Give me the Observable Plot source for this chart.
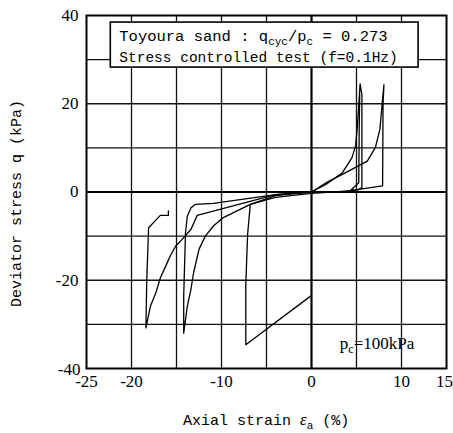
<!DOCTYPE html>
<html>
<head>
<meta charset="utf-8">
<script src="https://cdn.jsdelivr.net/npm/d3@7"></script>
<script src="https://cdn.jsdelivr.net/npm/@observablehq/plot@0.6"></script>
<style>
  body { margin: 0; background: #fff; }
  svg { display: block; }
</style>
</head>
<body>
<div id="chart"></div>
<script>
// Axis ticks and grid
const xTicks = [-25, -20, -10, 0, 10, 15];
const yTicks = [40, 20, 0, -20, -40];
const xGrid = [-20, -15, -10, -5, 5, 10];
const yGrid = [-30, -20, -10, 10, 20, 30];

// Stress paths: axial strain (%) and deviator stress q (kPa)
// first compression loop, unloading and extension to about -7 %
const loop1Strain = [0, 1.6, 3.4, 4.5, 4.9, 5.1, 5.25, 5.4, 5.6, 5.6, 5.6, 5.2, 3.0, 0, -4.0, -6.8, -7.1, -7.3, -7.3, -0.1];
const loop1Stress = [0, 1.7, 4.3, 7.8, 10.5, 15, 19.5, 24.5, 22, 5, 1.0, 0.5, 0.1, -0.3, -1.2, -2.8, -9.6, -21, -34.6, -23.6];

// second compression loop to about 8 %
const loop2Strain = [0, 1.8, 3.8, 6.2, 7.1, 7.6, 7.8, 8.0, 8.05, 7.95, 7.9, 6.0, 4.3, 5.25, 5.3, 5.35];
const loop2Stress = [0, 2.3, 4.4, 7.0, 10.1, 14.2, 18.8, 23.3, 24.3, 20, 1.4, 0.8, 0.3, 2.1, 14, 22];

// extension loop to about -14 %
const loop3Strain = [0, -4.0, -10.9, -12.9, -13.4, -13.8, -14.0, -14.2, -14.2, -13.8, -13.4, -13.1, -12.5, -11.8, -10.9, -9.8, -6.8, -4.0, 0];
const loop3Stress = [0, -0.6, -2.6, -2.8, -3.6, -5.5, -9.3, -23.6, -32, -25.9, -22.1, -18.3, -13, -10, -7.7, -5.8, -2.8, -0.8, 0];

// last extension loop to about -18.5 %, end of test
const loop4Strain = [0, -4.0, -12.7, -13.4, -14.4, -15.1, -15.7, -16.2, -16.8, -17.3, -17.9, -18.4, -18.3, -18.1, -16.8, -15.9, -15.9];
const loop4Stress = [0, -0.6, -5.3, -8.5, -10.8, -12.3, -14.5, -16.8, -19.5, -22.9, -25.9, -30.8, -19.8, -8.1, -5.3, -5.3, -4.3];

const loops = [
  [loop1Strain, loop1Stress],
  [loop2Strain, loop2Stress],
  [loop3Strain, loop3Stress],
  [loop4Strain, loop4Stress]
];
const points = loops.flatMap(([xs, ys], id) => xs.map((x, i) => ({strain: x, q: ys[i], id})));

const serif = "'Liberation Serif', 'Times New Roman', serif";
const mono = "'Liberation Mono', 'Courier New', monospace";
const fmt = d => String(d);

const plot = Plot.plot({
  width: 453,
  height: 433,
  marginLeft: 86,
  marginRight: 7,
  marginTop: 15,
  marginBottom: 65,
  style: {fontFamily: serif, fontSize: "17px", color: "#000", background: "#fff"},
  x: {domain: [-25, 15], axis: null},
  y: {domain: [-40, 40], axis: null},
  marks: [
    Plot.ruleX(xGrid, {stroke: "#111", strokeWidth: 1.3}),
    Plot.ruleY(yGrid, {stroke: "#111", strokeWidth: 1.3}),
    Plot.ruleX([0], {stroke: "#000", strokeWidth: 2.2}),
    Plot.ruleY([0], {stroke: "#000", strokeWidth: 2.2}),
    Plot.frame({stroke: "#000", strokeWidth: 2}),
    Plot.line(points, {x: "strain", y: "q", z: "id", stroke: "#000", strokeWidth: 1.3, strokeLinejoin: "round"}),
    // x tick labels (the last one kept inside the page)
    Plot.text(xTicks.filter(d => d !== 15), {x: d => d, frameAnchor: "bottom", dy: 18, text: fmt, fontSize: 17}),
    Plot.text([15], {x: d => d, frameAnchor: "bottom", dy: 18, dx: -2, text: fmt, fontSize: 17}),
    // y tick labels
    Plot.text(yTicks.filter(d => d !== -40), {y: d => d, frameAnchor: "left", textAnchor: "end", dx: -8, text: fmt, fontSize: 17}),
    Plot.text([-40], {y: d => d, frameAnchor: "left", textAnchor: "end", dx: -6, dy: 1, text: fmt, fontSize: 17})
  ]
});

document.getElementById("chart").appendChild(plot);

const svg = d3.select(plot);
const sx = plot.scale("x").apply;
const sy = plot.scale("y").apply;

// Legend box with test conditions
const box = svg.append("g").attr("text-anchor", "start");
box.append("rect")
  .attr("x", sx(-22.3)).attr("y", sy(38.4))
  .attr("width", sx(11.9) - sx(-22.3)).attr("height", sy(28.2) - sy(38.4))
  .attr("fill", "#fff").attr("stroke", "#000").attr("stroke-width", 1.6);

const line1 = box.append("text")
  .attr("x", sx(-22.3) + 9).attr("y", sy(38.4) + 19)
  .attr("font-family", mono).attr("font-size", 15.5);
line1.append("tspan").text("Toyoura sand : q");
line1.append("tspan").attr("font-size", 11).attr("dy", 4).text("cyc");
line1.append("tspan").attr("dy", -4).text("/p");
line1.append("tspan").attr("font-size", 11).attr("dy", 4).text("c");
line1.append("tspan").attr("dy", -4).text(" = 0.273");

box.append("text")
  .attr("x", sx(-22.3) + 9).attr("y", sy(38.4) + 40)
  .attr("font-family", mono).attr("font-size", 14.5)
  .text("Stress controlled test (f=0.1Hz)");

// Confining pressure
const pc = svg.append("text")
  .attr("text-anchor", "start")
  .attr("x", sx(3.2)).attr("y", sy(-35.8))
  .attr("font-family", serif).attr("font-size", 17);
pc.append("tspan").text("p");
pc.append("tspan").attr("font-size", 12).attr("dy", 4).text("c");
pc.append("tspan").attr("dy", -4).text("=100kPa");

// Axis titles
const xl = svg.append("text")
  .attr("text-anchor", "start")
  .attr("x", 183).attr("y", 425)
  .attr("font-family", mono).attr("font-size", 15);
xl.append("tspan").text("Axial strain ");
xl.append("tspan").attr("font-family", serif).attr("font-style", "italic").attr("font-size", 17).text("ε");
xl.append("tspan").attr("font-size", 11).attr("dy", 4).text("a");
xl.append("tspan").attr("dy", -4).text(" (%)");

svg.append("text")
  .attr("transform", `translate(21,${(sy(40) + sy(-40)) / 2 + 12}) rotate(-90)`)
  .attr("text-anchor", "middle")
  .attr("font-family", mono).attr("font-size", 15)
  .text("Deviator stress q (kPa)");
</script>
</body>
</html>
